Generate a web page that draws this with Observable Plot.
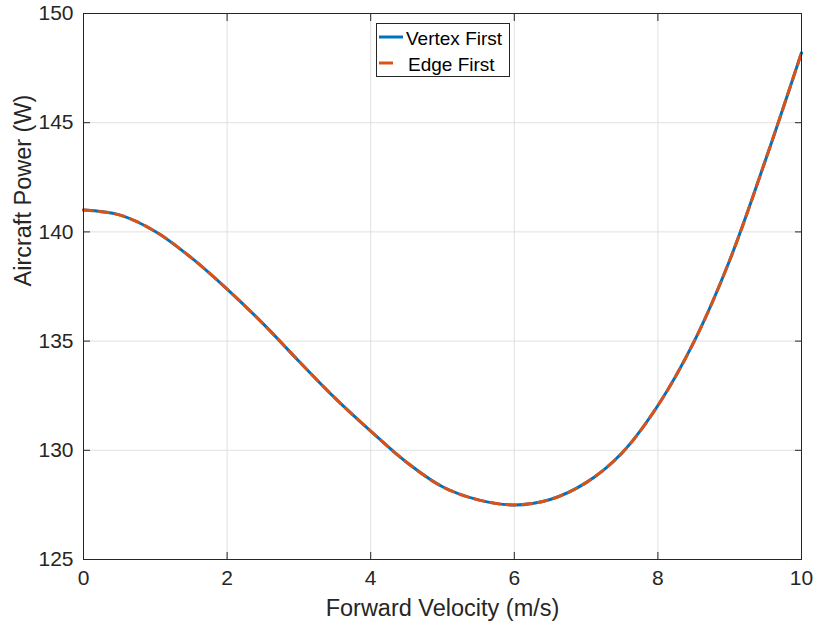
<!DOCTYPE html>
<html>
<head>
<meta charset="utf-8">
<script src="https://cdn.jsdelivr.net/npm/d3@7"></script>
<script src="https://cdn.jsdelivr.net/npm/@observablehq/plot@0.6"></script>
<style>
  html, body { margin: 0; padding: 0; background: #ffffff; }
  #chart { position: relative; width: 816px; height: 629px; font-family: "Liberation Sans", Arial, sans-serif; }
  #legend { position: absolute; left: 376px; top: 23px; }
</style>
</head>
<body>
<div id="chart"></div>
<script>
// Forward velocity samples (m/s)
const velocity = [0, 0.5, 1, 1.5, 2, 2.5, 3, 3.5, 4, 4.5, 5, 5.5, 6, 6.5, 7, 7.5, 8, 8.5, 9, 9.5, 10];
// Aircraft power (W) for each exploration order
const vertexFirst = [141.0, 140.78, 140.02, 138.82, 137.38, 135.8, 134.08, 132.4, 130.88, 129.45, 128.33, 127.73, 127.5, 127.75, 128.52, 129.88, 132.05, 134.95, 138.7, 143.3, 148.2];
const edgeFirst   = [141.0, 140.78, 140.02, 138.82, 137.38, 135.8, 134.08, 132.4, 130.88, 129.45, 128.33, 127.73, 127.5, 127.75, 128.52, 129.88, 132.05, 134.95, 138.7, 143.3, 148.2];
const seriesNames = ["Vertex First", "Edge First"];
const seriesColors = ["#0072BD", "#D95319"];
const xTicks = [0, 2, 4, 6, 8, 10];
const yTicks = [125, 130, 135, 140, 145, 150];
const xLabel = "Forward Velocity (m/s)";
const yLabel = "Aircraft Power (W)";

const ink = "#262626";
const gridColor = "#e0e0e0";
const vertexRows = velocity.map((v, i) => ({v, p: vertexFirst[i]}));
const edgeRows = velocity.map((v, i) => ({v, p: edgeFirst[i]}));

const chart = Plot.plot({
  width: 816,
  height: 629,
  marginLeft: 83,
  marginRight: 15,
  marginTop: 13,
  marginBottom: 70,
  style: {fontFamily: "'Liberation Sans', Arial, sans-serif", background: "#ffffff", color: ink, overflow: "visible"},
  x: {domain: [0, 10]},
  y: {domain: [125, 150]},
  marks: [
    Plot.gridX(xTicks, {stroke: gridColor, strokeOpacity: 1, strokeWidth: 1}),
    Plot.gridY(yTicks, {stroke: gridColor, strokeOpacity: 1, strokeWidth: 1}),
    Plot.line(vertexRows, {x: "v", y: "p", stroke: seriesColors[0], strokeWidth: 3, curve: "catmull-rom"}),
    Plot.line(edgeRows, {x: "v", y: "p", stroke: seriesColors[1], strokeWidth: 3, strokeDasharray: "9,7", curve: "catmull-rom"}),
    Plot.frame({stroke: ink, strokeWidth: 1}),
    // inward ticks on all four sides, labels on bottom and left
    Plot.axisX(xTicks, {anchor: "bottom", tickSize: -7, tickPadding: 18, fontSize: 21, label: null, stroke: ink, fill: ink}),
    Plot.axisY(yTicks, {anchor: "left", tickSize: -7, tickPadding: 17, fontSize: 21, label: null, stroke: ink, fill: ink}),
    Plot.axisX(xTicks, {anchor: "top", tickSize: -7, tickFormat: () => "", label: null, stroke: ink}),
    Plot.axisY(yTicks, {anchor: "right", tickSize: -7, tickFormat: () => "", label: null, stroke: ink}),
    Plot.text([xLabel], {frameAnchor: "bottom", dy: 49, text: d => d, fontSize: 23.5, fill: ink, lineAnchor: "middle"}),
    Plot.text([yLabel], {frameAnchor: "left", dx: -60, rotate: -90, text: d => d, fontSize: 23.5, fill: ink, lineAnchor: "middle"})
  ]
});
document.getElementById("chart").appendChild(chart);

// legend box
const legendW = 134, legendH = 54;
const legend = d3.select("#chart").append("svg")
  .attr("id", "legend")
  .attr("width", legendW)
  .attr("height", legendH)
  .style("font-family", "'Liberation Sans', Arial, sans-serif");
legend.append("rect")
  .attr("x", 0.5).attr("y", 0.5)
  .attr("width", legendW - 1).attr("height", legendH - 1)
  .attr("fill", "#ffffff").attr("stroke", ink).attr("stroke-width", 1);
seriesNames.forEach((name, i) => {
  const cy = 14 + i * 26;
  legend.append("line")
    .attr("x1", 3).attr("x2", i === 0 ? 27 : 17)
    .attr("y1", cy).attr("y2", cy)
    .attr("stroke", seriesColors[i]).attr("stroke-width", 3);
  legend.append("text")
    .attr("x", i === 0 ? 30 : 32).attr("y", cy + 7.5)
    .attr("font-size", 19)
    .attr("fill", "#000000")
    .text(name);
});
</script>
</body>
</html>
